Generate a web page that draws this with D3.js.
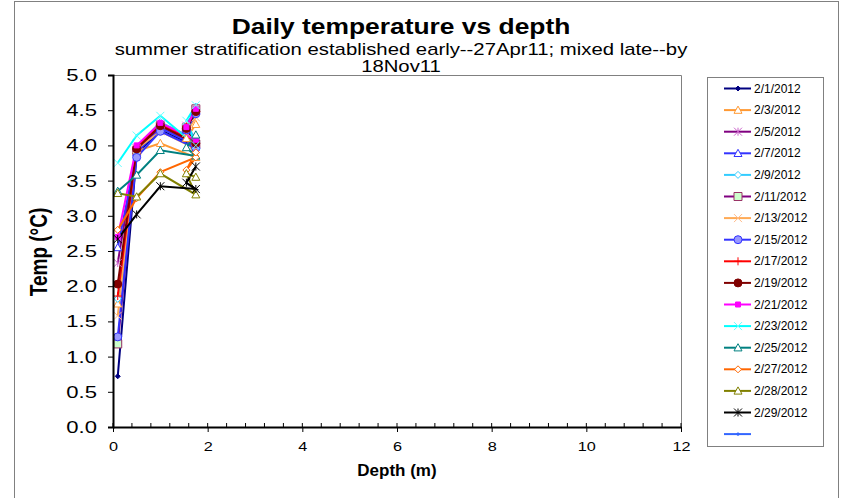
<!DOCTYPE html>
<html>
  <head>
    <script src="https://cdnjs.cloudflare.com/ajax/libs/d3/7.8.5/d3.min.js"></script>
    <style>
      body { margin: 0; background: #fff; }
      text { font-family: Arial, "Liberation Sans", sans-serif; }
    </style>
  </head>
  <body>
    <div id="vis"></div>
    <script type="text/javascript">

        // sensor depths in the order each daily profile was logged
        const depths = [0.1, 0.5, 1.0, 1.75, 1.55, 1.75];

        const dates = ["2/1/2012", "2/3/2012", "2/5/2012", "2/7/2012", "2/9/2012",
                       "2/11/2012", "2/13/2012", "2/15/2012", "2/17/2012", "2/19/2012",
                       "2/21/2012", "2/23/2012", "2/25/2012", "2/27/2012", "2/28/2012",
                       "2/29/2012", ""];

        const temps = [
            [0.72, 3.88, 4.22, 3.98, 4.20, 4.45],
            [1.75, 3.92, 4.03, 3.83, 4.10, 4.30],
            [2.33, 3.96, 4.30, 4.05, 4.28, 4.50],
            [2.55, 3.90, 4.25, 4.00, 4.22, 4.48],
            [1.82, 3.98, 4.33, 4.08, 4.30, 4.55],
            [1.18, 3.93, 4.28, 4.02, 4.25, 4.52],
            [1.58, 3.95, 4.20, 3.95, 4.18, 4.40],
            [1.28, 3.83, 4.20, 3.96, 4.22, 4.45],
            [1.86, 3.97, 4.30, 4.05, 4.27, 4.50],
            [2.03, 3.95, 4.28, 4.03, 4.24, 4.48],
            [2.70, 4.00, 4.32, 4.08, 4.26, 4.52],
            [3.75, 4.14, 4.42, 4.00, 4.35, 4.57],
            [3.35, 3.58, 3.93, 3.85, 3.97, 4.15],
            [2.80, 3.25, 3.62, 3.83, 3.65, 3.90],
            [3.32, 3.27, 3.60, 3.30, 3.60, 3.55],
            [2.67, 3.02, 3.42, 3.38, 3.47, 3.70],
            []
        ];

        const xTicks = [0, 2, 4, 6, 8, 10, 12];
        const yTicks = [0, 0.5, 1, 1.5, 2, 2.5, 3, 3.5, 4, 4.5, 5];

        // line colour, marker shape, marker stroke, marker fill
        const styles = [
            {c: "#000080", m: "diamond", ms: "#000080", mf: "#000080", r: 2.5},
            {c: "#FF9933", m: "triangle", ms: "#FF9933", mf: "#fff", r: 4},
            {c: "#800080", m: "star", ms: "#CC66CC", mf: "none", r: 4},
            {c: "#3333FF", m: "triangle", ms: "#3333FF", mf: "#fff", r: 4},
            {c: "#33CCFF", m: "diamond", ms: "#33CCFF", mf: "#fff", r: 3.5},
            {c: "#800080", m: "square", ms: "#993366", mf: "#CCFFCC", r: 4},
            {c: "#FFAA55", m: "x", ms: "#FFBB88", mf: "none", r: 4},
            {c: "#3333FF", m: "circle", ms: "#3333FF", mf: "#9999FF", r: 4},
            {c: "#FF0000", m: "plus", ms: "#FF0000", mf: "none", r: 4},
            {c: "#800000", m: "circle", ms: "#800000", mf: "#800000", r: 4},
            {c: "#FF00FF", m: "square", ms: "#FF00FF", mf: "#FF00FF", r: 2.5},
            {c: "#00FFFF", m: "x", ms: "#66FFFF", mf: "none", r: 4},
            {c: "#008080", m: "triangle", ms: "#008080", mf: "#fff", r: 4},
            {c: "#FF6600", m: "diamond", ms: "#FF6600", mf: "#fff", r: 3.5},
            {c: "#808000", m: "triangle", ms: "#808000", mf: "#fff", r: 4},
            {c: "#000000", m: "star", ms: "#000000", mf: "none", r: 4},
            {c: "#3366FF", m: "dot", ms: "#3366FF", mf: "#3366FF", r: 1}
        ];

        function markerPath(m, r) {
            switch (m) {
                case "diamond": return `M0,${-r}L${r},0L0,${r}L${-r},0Z`;
                case "triangle": return `M0,${-r}L${r},${r * 0.8}L${-r},${r * 0.8}Z`;
                case "square": return `M${-r},${-r}H${r}V${r}H${-r}Z`;
                case "x": return `M${-r},${-r}L${r},${r}M${-r},${r}L${r},${-r}`;
                case "plus": return `M${-r},0H${r}M0,${-r}V${r}`;
                case "star": return `M${-r},${-r}L${r},${r}M${-r},${r}L${r},${-r}M0,${-r}V${r}`;
                case "dot": return `M${-r},${-r}H${r}V${r}H${-r}Z`;
                default: return "";
            }
        }

        function drawMarker(g, s) {
            if (s.m === "circle") {
                g.append("circle").attr("r", s.r)
                    .attr("fill", s.mf).attr("stroke", s.ms).attr("stroke-width", 1);
            } else {
                g.append("path").attr("d", markerPath(s.m, s.r))
                    .attr("fill", s.mf).attr("stroke", s.ms).attr("stroke-width", 1);
            }
        }

        // the original text is rendered a bit wider than plain Arial
        function wideText(sel, x, y, sx, size, str, bold) {
            return sel.append("text")
                .attr("transform", `translate(${x},${y}) scale(${sx},1)`)
                .attr("text-anchor", "middle")
                .attr("font-size", size)
                .attr("font-weight", bold ? "bold" : null)
                .text(str);
        }

        const width = 845, height = 498;
        const plot = {left: 113, top: 75, right: 681, bottom: 427};

        const svg = d3.select("#vis")
            .append("svg")
            .attr("width", width)
            .attr("height", height);

        // chart frame
        svg.append("rect")
            .attr("x", 14.5).attr("y", 1.5)
            .attr("width", 824).attr("height", 510)
            .attr("fill", "none").attr("stroke", "#808080");

        const x = d3.scaleLinear().domain([0, 12]).range([plot.left, plot.right]);
        const y = d3.scaleLinear().domain([0, 5]).range([plot.bottom, plot.top]);

        // plot area border (top and right)
        svg.append("path")
            .attr("d", `M${plot.left},${plot.top + 0.5}H${plot.right + 0.5}V${plot.bottom}`)
            .attr("fill", "none").attr("stroke", "#808080");

        // titles
        wideText(svg, 401, 34, 1.2, 22, "Daily temperature vs depth", true);
        wideText(svg, 401, 55, 1.27, 16, "summer stratification established early--27Apr11; mixed late--by");
        wideText(svg, 401, 72, 1.27, 16, "18Nov11");

        // series
        const line = d3.line().x(d => x(d[0])).y(d => y(d[1]));
        const series = dates.map((d, i) => ({
            name: d,
            style: styles[i],
            pts: temps[i].map((t, j) => [depths[j], t])
        }));

        svg.append("g").selectAll("path")
            .data(series)
            .join("path")
            .attr("d", d => d.pts.length ? line(d.pts) : null)
            .attr("fill", "none")
            .attr("stroke", d => d.style.c)
            .attr("stroke-width", 2);

        series.forEach(s => {
            s.pts.forEach(p => {
                const g = svg.append("g")
                    .attr("transform", `translate(${x(p[0])},${y(p[1])})`);
                drawMarker(g, s.style);
            });
        });

        // y axis
        const yAxis = svg.append("g")
            .attr("transform", `translate(${plot.left},0)`)
            .call(d3.axisLeft(y).tickValues(yTicks).tickFormat(d3.format(".1f"))
                .tickSize(5).tickPadding(10));
        yAxis.select(".domain").attr("stroke-width", 2);
        yAxis.selectAll("text")
            .attr("x", 0)
            .attr("transform", "translate(-16,0) scale(1.3,1)")
            .attr("font-size", 17).attr("fill", "#000")
            .attr("font-family", "Arial, 'Liberation Sans', sans-serif");

        // x axis with minor ticks every 0.4
        svg.append("g")
            .selectAll("line")
            .data(d3.range(0, 12.01, 0.4))
            .join("line")
            .attr("x1", d => x(d)).attr("x2", d => x(d))
            .attr("y1", plot.bottom - 4).attr("y2", plot.bottom)
            .attr("stroke", "#000");
        const xAxis = svg.append("g")
            .attr("transform", `translate(0,${plot.bottom})`)
            .call(d3.axisBottom(x).tickValues(xTicks).tickFormat(d3.format("d"))
                .tickSizeInner(5).tickSizeOuter(0).tickPadding(7));
        xAxis.select(".domain").attr("stroke-width", 2);
        xAxis.selectAll("text")
            .attr("y", 0)
            .attr("transform", "translate(0,15) scale(1.25,1)")
            .attr("font-size", 13).attr("fill", "#000")
            .attr("font-family", "Arial, 'Liberation Sans', sans-serif");

        // axis titles
        svg.append("text").attr("x", 397).attr("y", 476)
            .attr("text-anchor", "middle").attr("font-size", 17).attr("font-weight", "bold")
            .text("Depth (m)");
        svg.append("text")
            .attr("transform", "translate(47,252) rotate(-90) scale(1,1.25)")
            .attr("text-anchor", "middle").attr("font-size", 19).attr("font-weight", "bold")
            .text("Temp (\u00B0C)");

        // legend
        svg.append("rect")
            .attr("x", 707.5).attr("y", 77.5)
            .attr("width", 116).attr("height", 369)
            .attr("fill", "#fff").attr("stroke", "#808080");

        const legend = svg.append("g").selectAll("g")
            .data(series)
            .join("g")
            .attr("transform", (d, i) => `translate(738,${88.5 + i * 21.6})`);
        legend.append("line")
            .attr("x1", -14).attr("x2", 13)
            .attr("stroke", d => d.style.c).attr("stroke-width", 2);
        legend.each(function (d) { drawMarker(d3.select(this), d.style); });
        legend.append("text")
            .attr("x", 16).attr("y", 4)
            .attr("font-size", 12)
            .text(d => d.name);

    </script>
  </body>
</html>
